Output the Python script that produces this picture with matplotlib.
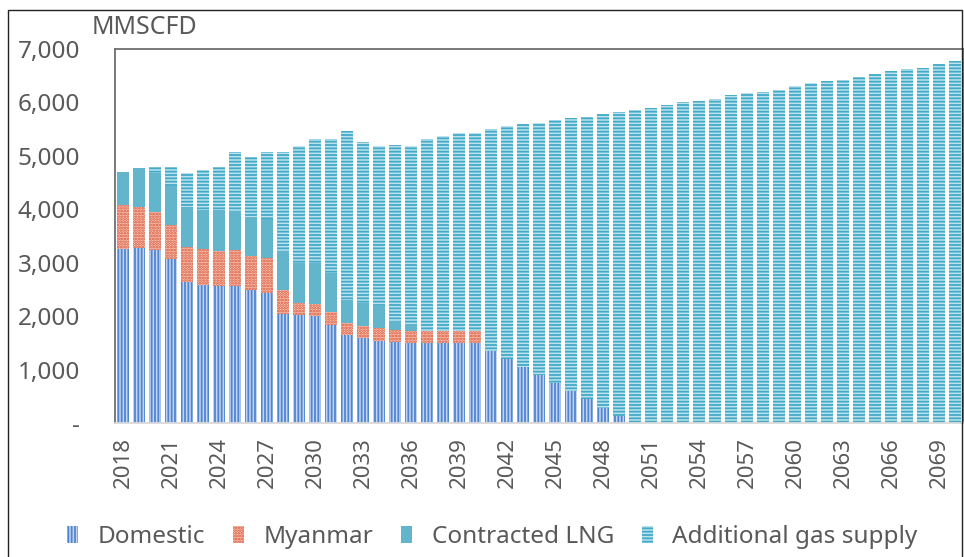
import numpy as np
import matplotlib
matplotlib.use("Agg")
import matplotlib.pyplot as plt
from matplotlib.patches import Patch, Rectangle

years = list(range(2018, 2071))

# segment values (MMSCFD)
domestic = [3260, 3270, 3230, 3070, 2630, 2580, 2570, 2570, 2480, 2430,
            2040, 2020, 2010, 1840, 1640, 1590, 1540, 1520, 1490, 1490,
            1490, 1490, 1490, 1350, 1190, 1040, 890, 750, 590, 450,
            290, 130, 0, 0, 0, 0, 0, 0, 0, 0,
            0, 0, 0, 0, 0, 0, 0, 0, 0, 0,
            0, 0, 0]
myanmar = [820, 770, 710, 640, 660, 670, 650, 670, 650, 650,
           440, 220, 220, 230, 230, 230, 230, 230, 230, 230,
           230, 230, 230, 0, 0, 0, 0, 0, 0, 0,
           0, 0, 0, 0, 0, 0, 0, 0, 0, 0,
           0, 0, 0, 0, 0, 0, 0, 0, 0, 0,
           0, 0, 0]
contracted_lng = [610, 740, 740, 730, 750, 730, 760, 730, 730, 740,
                  740, 760, 770, 740, 430, 420, 430, 150, 140, 0,
                  0, 0, 0, 0, 0, 0, 0, 0, 0, 0,
                  0, 0, 0, 0, 0, 0, 0, 0, 0, 0,
                  0, 0, 0, 0, 0, 0, 0, 0, 0, 0,
                  0, 0, 0]
additional = [0, 0, 120, 360, 640, 760, 820, 1110, 1110, 1260,
              1860, 2190, 2310, 2500, 3170, 3020, 2990, 3300, 3330, 3600,
              3650, 3710, 3710, 4150, 4360, 4550, 4720, 4920, 5120, 5270,
              5500, 5700, 5850, 5900, 5960, 6000, 6020, 6070, 6130, 6170,
              6190, 6240, 6300, 6360, 6400, 6420, 6480, 6540, 6580, 6630,
              6650, 6720, 6770]

series_names = ["Domestic", "Myanmar", "Contracted LNG", "Additional gas supply"]

plt.rcParams['font.family'] = ['Noto Sans', 'DejaVu Sans']
plt.rcParams['hatch.linewidth'] = 1.3

# face colour, hatch colour, hatch pattern
styles = [
    ("#c5d5ef", "#4f86d2", "|||||"),
    ("#f3c9bb", "#de4f30", "......"),
    ("#62b5cb", "#62b5cb", None),
    ("#bfe2ec", "#41aac8", "-----"),
]

fig = plt.figure(figsize=(9.64, 5.57), dpi=100)
ax = fig.add_axes([115 / 964, 1 - 423 / 557, (963 - 115) / 964, (423 - 49) / 557])

x = np.array(years)
bottom = np.zeros(len(years))
for vals, (fc, hc, hatch) in zip([domestic, myanmar, contracted_lng, additional], styles):
    ax.bar(x, vals, width=0.78, bottom=bottom, color=fc, edgecolor=hc,
           hatch=hatch, linewidth=0)
    bottom += np.array(vals)

ax.set_xlim(2017.5, 2070.5)
ax.set_ylim(0, 7000)

yt = list(range(0, 7001, 1000))
ax.set_yticks(yt)
ax.set_yticklabels(["-"] + ["{:,}".format(v) for v in yt[1:]])
xt = list(range(2018, 2070, 3))
ax.set_xticks(xt)
ax.set_xticklabels([str(v) for v in xt], rotation=90)
ax.tick_params(axis='y', length=0, pad=25, labelsize=17.5, labelcolor="#595959")
ax.tick_params(axis='x', length=0, pad=10, labelsize=16, labelcolor="#595959")

for s in ['left', 'top', 'right']:
    ax.spines[s].set_color("#6e6e6e")
    ax.spines[s].set_linewidth(1.3)
ax.spines['bottom'].set_color("#d9d9d9")
ax.spines['bottom'].set_linewidth(1.3)

fig.text(92 / 964, 1 - 27 / 557, "MMSCFD", fontsize=18, color="#595959",
         ha='left', va='center')

handles = [Patch(facecolor=fc, edgecolor=hc, hatch=hatch, linewidth=0)
           for fc, hc, hatch in styles]
fig.legend(handles, series_names, loc='center', bbox_to_anchor=(0.511, 1 - 537 / 557),
           ncol=4, frameon=False, fontsize=17.5, labelcolor="#595959",
           handlelength=0.45, handleheight=0.7, handletextpad=0.8, columnspacing=1.15)

# outer frame around the chart
fig.add_artist(Rectangle((8 / 964, -0.05), (962 - 8) / 964, 1.05 - 10 / 557,
                         transform=fig.transFigure, fill=False,
                         edgecolor="#222222", linewidth=1.0))

fig.savefig("out.png", dpi=100)
